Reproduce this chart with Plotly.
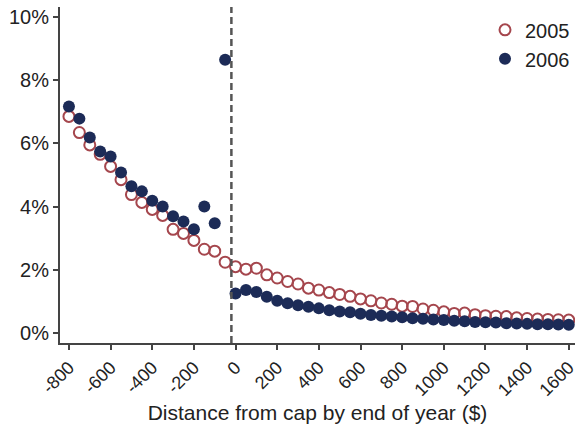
import plotly.graph_objects as go

# Distance from cap bins ($)
distance = list(range(-800, 1601, 50))

# Share (%) for each bin
share_2005 = [
    6.85, 6.34, 5.95, 5.65, 5.27, 4.85, 4.38, 4.13, 3.91, 3.72, 3.28, 3.15, 2.93, 2.65, 2.59, 2.24,
    2.10, 2.02, 2.05, 1.84, 1.74, 1.63, 1.55, 1.42, 1.36, 1.28, 1.22, 1.16, 1.08, 1.02, 0.95, 0.91,
    0.85, 0.84, 0.76, 0.72, 0.67, 0.62, 0.63, 0.58, 0.55, 0.53, 0.52, 0.48, 0.46, 0.44, 0.43, 0.42, 0.41,
]
share_2006 = [
    7.16, 6.78, 6.18, 5.74, 5.58, 5.08, 4.64, 4.48, 4.18, 4.00, 3.69, 3.53, 3.28, 4.00, 3.47, 8.64,
    1.25, 1.36, 1.30, 1.15, 1.02, 0.94, 0.88, 0.83, 0.78, 0.72, 0.68, 0.66, 0.61, 0.57, 0.55, 0.52,
    0.50, 0.47, 0.45, 0.43, 0.41, 0.39, 0.37, 0.35, 0.34, 0.33, 0.31, 0.30, 0.29, 0.28, 0.28, 0.27, 0.26,
]

x_ticks = list(range(-800, 1601, 200))
x_tick_labels = ["-800", "-600", "-400", "-200", "0", "200", "400", "600", "800",
                 "1000", "1200", "1400", "1600"]
y_ticks = [0, 2, 4, 6, 8, 10]
y_tick_labels = ["0%", "2%", "4%", "6%", "8%", "10%"]
cap_line_x = -20

RED = "#a5464d"
NAVY = "#1c2b57"
FONT = "Liberation Sans, Arial, sans-serif"

fig = go.Figure()
fig.add_trace(go.Scatter(
    x=distance, y=share_2005, mode="markers", name="2005",
    marker=dict(symbol="circle-open", size=11, color=RED, line=dict(width=2, color=RED)),
))
fig.add_trace(go.Scatter(
    x=distance, y=share_2006, mode="markers", name="2006",
    marker=dict(symbol="circle", size=12, color=NAVY),
))

fig.add_shape(type="line", xref="x", yref="paper", x0=cap_line_x, x1=cap_line_x, y0=0, y1=1,
              line=dict(color="#555555", width=2.5, dash="7px,4px"))

fig.update_layout(
    width=581, height=424,
    margin=dict(l=60, r=3, t=7, b=80),
    paper_bgcolor="white", plot_bgcolor="white",
    font=dict(family=FONT, size=20, color="#222222"),
    showlegend=True,
    legend=dict(x=1.0, y=0.99, xanchor="right", yanchor="top", bgcolor="rgba(0,0,0,0)",
                font=dict(size=20), itemsizing="trace", tracegroupgap=0),
    xaxis=dict(
        range=[-843, 1630], tickvals=x_ticks, ticktext=x_tick_labels, tickangle=-45,
        showline=True, linecolor="#444444", linewidth=2,
        ticks="outside", ticklen=5, tickwidth=1.5, tickcolor="#444444",
        showgrid=False, zeroline=False,
        tickfont=dict(size=18),
        title=dict(text="Distance from cap by end of year ($)", font=dict(size=21), standoff=6),
    ),
    yaxis=dict(
        range=[-0.315, 10.31], tickvals=y_ticks, ticktext=y_tick_labels,
        showline=True, linecolor="#444444", linewidth=2,
        ticks="outside", ticklen=5, tickwidth=1.5, tickcolor="#444444",
        showgrid=False, zeroline=False,
        tickfont=dict(size=20),
    ),
)

fig.write_html("out.html")
